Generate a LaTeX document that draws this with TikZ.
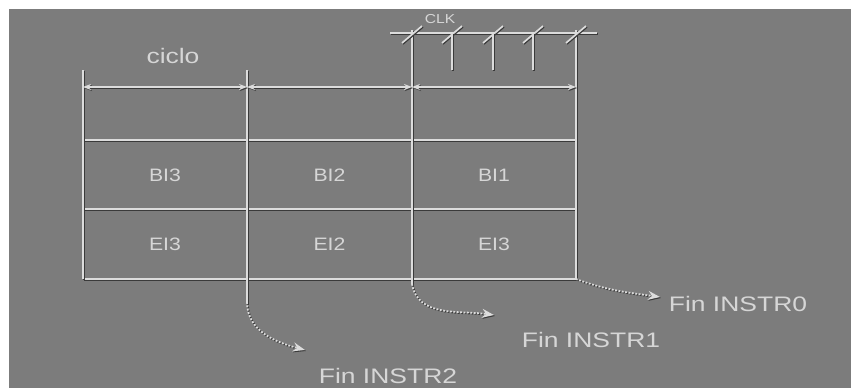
\documentclass[tikz,border=0pt]{standalone}
\usepackage{fontspec}
\setmainfont{Liberation Sans}
\usetikzlibrary{arrows.meta}
\definecolor{bgray}{RGB}{124,124,124}
\definecolor{lite}{RGB}{220,220,220}
\definecolor{shade}{RGB}{58,58,58}
\definecolor{txt}{RGB}{214,214,214}
\tikzset{
  emb/.style={draw=lite, line width=1.7pt,
    preaction={draw=shade, line width=1.5pt, transform canvas={shift={(1pt,-1pt)}}}},
  dimarrow/.style={emb, {Stealth[length=8pt,width=6pt]}-{Stealth[length=8pt,width=6pt]}},
  dotarrow/.style={draw=lite, line width=1.7pt, dash pattern=on 1.8pt off 1.6pt,
    -{Stealth[length=12pt,width=9pt]},
    preaction={draw=shade, line width=1.5pt, dash pattern=on 1.8pt off 1.6pt,
      transform canvas={shift={(1pt,-1pt)}}, -{Stealth[length=12pt,width=9pt]}}},
  lbl/.style={text=txt, font=\fontsize{18}{18}\selectfont, xscale=1.18, inner sep=0pt},
  biglbl/.style={text=txt, font=\fontsize{21}{21}\selectfont, xscale=1.26, inner sep=0pt},
  clklbl/.style={text=txt, font=\fontsize{13}{13}\selectfont, xscale=1.2, inner sep=0pt}
}
\begin{document}
\begin{tikzpicture}[x=1pt,y=-1pt]
\useasboundingbox (0,0) rectangle (851,388);
\fill[white] (0,0) rectangle (851,388);
\fill[bgray] (9,9) rectangle (851,388);

% coordinates of the grid
\coordinate (A0) at (83,140);  \coordinate (A1) at (247,140);
\coordinate (A2) at (412,140); \coordinate (A3) at (576,140);
\coordinate (B0) at (83,209);  \coordinate (B3) at (576,209);
\coordinate (C0) at (83,279);  \coordinate (C3) at (576,279);

% table
\draw[emb] (A0) -- (A3);
\draw[emb] (B0) -- (B3);
\draw[emb] (C0) -- (C3);
\coordinate (v0t) at (83,70);   \draw[emb] (v0t) -- (C0);
\coordinate (v1t) at (247,70);  \coordinate (v1b) at (247,302); \draw[emb] (v1t) -- (v1b);
\coordinate (v2t) at (412,30);  \coordinate (v2b) at (412,284); \draw[emb] (v2t) -- (v2b);
\coordinate (v3t) at (576,30);  \draw[emb] (v3t) -- (C3);

% clock line
\coordinate (k0) at (390,33); \coordinate (k1) at (597,33);
\draw[emb] (k0) -- (k1);
\foreach \x in {412,452,493,533,576}{
  \draw[emb] (\x-10,43) -- (\x+10,26);
}
\foreach \x in {452,493,533}{
  \draw[emb] (\x,33) -- (\x,70);
}
\node[clklbl] (clk) at (440,19) {CLK};

% dimension arrows
\coordinate (d0) at (83,87); \coordinate (d1) at (247,87);
\coordinate (d2) at (412,87); \coordinate (d3) at (576,87);
\draw[dimarrow] (d0) -- (d1);
\draw[dimarrow] (d1) -- (d2);
\draw[dimarrow] (d2) -- (d3);
\node[biglbl] (ciclo) at (173,56) {ciclo};

% cells
\node[lbl] (bi3) at (165,175) {BI3};
\node[lbl] (bi2) at (329.5,175) {BI2};
\node[lbl] (bi1) at (494,175) {BI1};
\node[lbl] (ei3) at (165,244) {EI3};
\node[lbl] (ei2) at (329.5,244) {EI2};
\node[lbl] (ei3b) at (494,244) {EI3};

% end labels
\node[biglbl] (f2) at (388,376) {Fin INSTR2};
\node[biglbl] (f1) at (591,340) {Fin INSTR1};
\node[biglbl] (f0) at (738,304) {Fin INSTR0};

% dotted arrows
\coordinate (e2) at (305,350);
\coordinate (e1) at (494,315);
\coordinate (e0) at (660,297);
\draw[dotarrow] (v1b) to[out=-90,in=165] (e2);
\draw[dotarrow] (v2b) to[out=-80,in=172] (e1);
\draw[dotarrow] (C3) to[out=-20,in=172] (e0);
\end{tikzpicture}
\end{document}
